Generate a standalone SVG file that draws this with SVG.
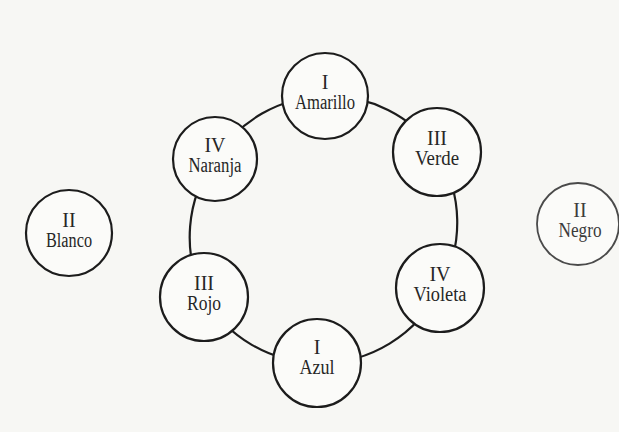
<svg xmlns="http://www.w3.org/2000/svg" width="619" height="432" viewBox="0 0 619 432">
<style>
.bg{fill:#f7f7f4}
.node circle{fill:#fbfbf9;stroke:#1c1c1c;stroke-width:2.2}
.node.faint circle{stroke:#4a4a4a;stroke-width:1.8}
.node text{font-family:"Liberation Serif","Times New Roman",serif;font-size:20px;fill:#262626;text-anchor:middle}
.node.faint text{fill:#3c3c3c}
.ring path{fill:none;stroke:#1c1c1c;stroke-width:2.2}
</style>
<rect class="bg" x="0" y="0" width="619" height="432"/>
<g id="connectors" class="ring">
<path d="M325,96 A133,133 0 0 1 437,152"/>
<path d="M437,152 A133,133 0 0 1 440,288"/>
<path d="M440,288 A133,133 0 0 1 317,363"/>
<path d="M317,363 A133,133 0 0 1 204,297"/>
<path d="M204,297 A133,133 0 0 1 215,159"/>
<path d="M215,159 A133,133 0 0 1 325,96"/>
</g>
<g id="amarillo" class="node">
<circle cx="325" cy="96" r="43"/>
<text x="325" y="89">I</text>
<text x="325" y="109" textLength="60" lengthAdjust="spacingAndGlyphs">Amarillo</text>
</g>
<g id="verde" class="node">
<circle cx="437" cy="152" r="44"/>
<text x="437" y="145">III</text>
<text x="437" y="165" textLength="44" lengthAdjust="spacingAndGlyphs">Verde</text>
</g>
<g id="violeta" class="node">
<circle cx="440" cy="288" r="44"/>
<text x="440" y="281">IV</text>
<text x="440" y="301" textLength="53" lengthAdjust="spacingAndGlyphs">Violeta</text>
</g>
<g id="azul" class="node">
<circle cx="317" cy="363" r="44"/>
<text x="317" y="354">I</text>
<text x="317" y="374" textLength="35" lengthAdjust="spacingAndGlyphs">Azul</text>
</g>
<g id="rojo" class="node">
<circle cx="204" cy="297" r="44"/>
<text x="204" y="290">III</text>
<text x="204" y="310" textLength="34" lengthAdjust="spacingAndGlyphs">Rojo</text>
</g>
<g id="naranja" class="node">
<circle cx="215" cy="159" r="42"/>
<text x="215" y="152">IV</text>
<text x="215" y="172" textLength="53" lengthAdjust="spacingAndGlyphs">Naranja</text>
</g>
<g id="blanco" class="node">
<circle cx="69" cy="233" r="43"/>
<text x="69" y="227">II</text>
<text x="69" y="247" textLength="46" lengthAdjust="spacingAndGlyphs">Blanco</text>
</g>
<g id="negro" class="node faint">
<circle cx="578" cy="224" r="41"/>
<text x="580" y="217">II</text>
<text x="580" y="237" textLength="43" lengthAdjust="spacingAndGlyphs">Negro</text>
</g>
</svg>
